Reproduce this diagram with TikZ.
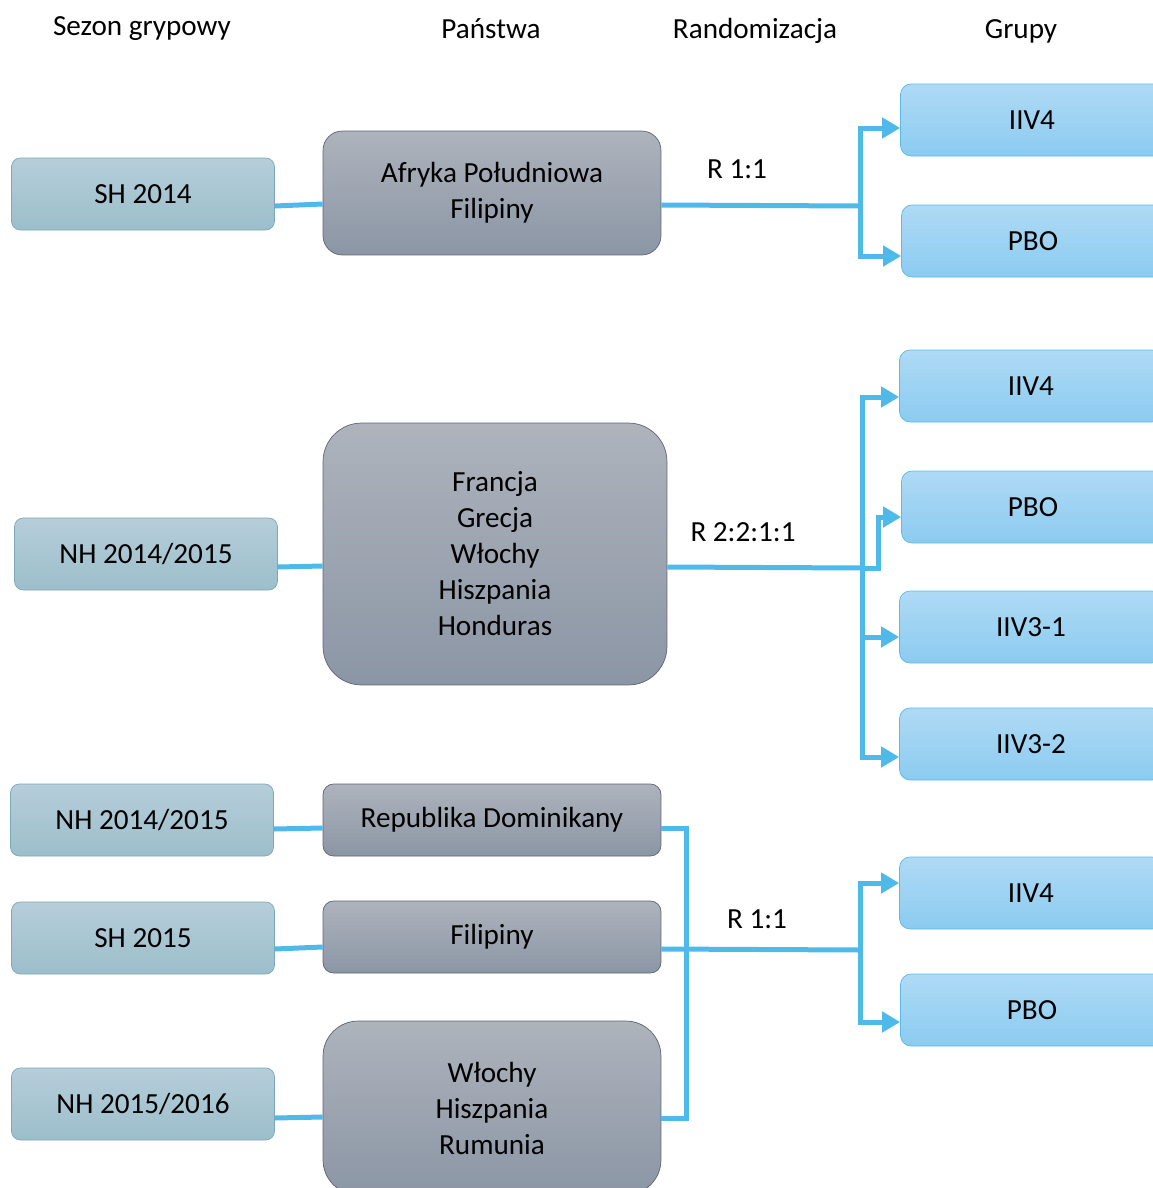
\documentclass[tikz,border=0pt]{standalone}
\usepackage{fontspec}
\setmainfont{Carlito}
\usepackage{xcolor}
\definecolor{seasontop}{HTML}{B5CED9}
\definecolor{seasonbot}{HTML}{9CBECB}
\definecolor{seasonedge}{HTML}{7BA7BA}
\definecolor{countrytop}{HTML}{AEB3BC}
\definecolor{countrybot}{HTML}{8B96A5}
\definecolor{countryedge}{HTML}{5D6574}
\definecolor{grouptop}{HTML}{AFDAF5}
\definecolor{groupbot}{HTML}{8BCBF0}
\definecolor{groupedge}{HTML}{5ABAE9}
\definecolor{linkblue}{HTML}{4FB9E9}
\usepackage{tikz}
\usetikzlibrary{arrows.meta,positioning}
\newcommand{\flufont}{\fontsize{16.6}{20.5}\selectfont}
\tikzset{
    flu_head/.style={font=\flufont, text=black, inner sep=0pt},
    flu_season/.style={draw=seasonedge, top color=seasontop, bottom color=seasonbot, text=black, font=\flufont, rounded corners=5pt, align=center, minimum width=5.26cm, minimum height=1.44cm},
    flu_country/.style={draw=countryedge, top color=countrytop, bottom color=countrybot, text=black, font=\flufont, rounded corners=6pt, align=center, minimum width=6.76cm, minimum height=1.44cm},
    flu_group/.style={draw=groupedge, top color=grouptop, bottom color=groupbot, text=black, font=\flufont, rounded corners=6pt, align=center, minimum width=5.26cm, minimum height=1.44cm},
    flu_link/.style={draw=linkblue, line width=0.1cm},
    flu_arrow/.style={flu_link, -{Triangle[length=0.36cm, width=0.4cm]}}
}

\begin{document}
\begin{tikzpicture}[x=0.02cm, y=-0.02cm]
\useasboundingbox (0,0) rectangle (1153,1188);
\clip (0,0) rectangle (1153,1188);

% column heads
\node[flu_head] (h_season) at (142,29) {Sezon grypowy};
\node[flu_head] (h_country) at (491,29) {Państwa};
\node[flu_head] (h_random) at (755,31) {Randomizacja};
\node[flu_head] (h_group) at (1021,31) {Grupy};

% seasons
\node[flu_season] (s1) at (143,194) {SH 2014};
\node[flu_season] (s2) at (146,554) {NH 2014/2015};
\node[flu_season] (s3) at (142,820) {NH 2014/2015};
\node[flu_season] (s4) at (143,938) {SH 2015};
\node[flu_season] (s5) at (143,1104) {NH 2015/2016};

% countries
\node[flu_country, minimum height=2.48cm, rounded corners=11pt] (c1) at (492,193) {Afryka Południowa\\Filipiny};
\node[flu_country, minimum width=6.88cm, minimum height=5.24cm, rounded corners=22pt] (c2) at (495,554) {Francja\\Grecja\\Włochy\\Hiszpania\\Honduras};
\node[flu_country] (c3) at (492,820) {Republika Dominikany};
\node[flu_country] (c4) at (492,937) {Filipiny};
\node[flu_country, minimum height=3.48cm, rounded corners=20pt] (c5) at (492,1108) {Włochy\\Hiszpania\\Rumunia};

% groups
\node[flu_group] (g1) at (1032,120) {IIV4};
\node[flu_group] (g2) at (1033,241) {PBO};
\node[flu_group] (g3) at (1031,386) {IIV4};
\node[flu_group] (g4) at (1033,507) {PBO};
\node[flu_group] (g5) at (1031,627) {IIV3-1};
\node[flu_group] (g6) at (1031,744) {IIV3-2};
\node[flu_group] (g7) at (1031,893) {IIV4};
\node[flu_group] (g8) at (1032,1010) {PBO};

% randomisation labels
\node[flu_head] (r1) at (737,169) {R 1:1};
\node[flu_head] (r2) at (743,532) {R 2:2:1:1};
\node[flu_head] (r3) at (757,919) {R 1:1};

% season -> country
\draw[flu_link] ([yshift=-0.24cm]s1.east) -- ([yshift=-0.22cm]c1.west);
\draw[flu_link] ([yshift=-0.26cm]s2.east) -- ([yshift=-0.24cm]c2.west);
\draw[flu_link] ([yshift=-0.18cm]s3.east) -- ([yshift=-0.16cm]c3.west);
\draw[flu_link] ([yshift=-0.22cm]s4.east) -- ([yshift=-0.2cm]c4.west);
\draw[flu_link] ([yshift=-0.28cm]s5.east) -- ([yshift=-0.18cm]c5.west);

% first block
\coordinate (j1) at (860,206);
\draw[flu_link] ([yshift=-0.24cm]c1.east) -- (j1);
\draw[flu_arrow] (j1) |- ([yshift=-0.16cm]g1.west);
\draw[flu_arrow] (j1) |- ([yshift=-0.3cm]g2.west);

% second block
\coordinate (j2) at (862,568);
\coordinate (j2b) at (878,568);
\draw[flu_link] ([yshift=-0.26cm]c2.east) -- (j2);
\draw[flu_arrow] (j2) |- ([yshift=-0.22cm]g3.west);
\draw[flu_arrow] (j2) -- (j2b) |- ([yshift=-0.2cm]g4.west);
\draw[flu_arrow] (j2) |- ([yshift=-0.2cm]g5.west);
\draw[flu_arrow] (j2) |- ([yshift=-0.26cm]g6.west);

% third block
\coordinate (m3) at (686,949);
\coordinate (j3) at (860,950);
\draw[flu_link] ([yshift=-0.16cm]c3.east) -| (m3) |- ([yshift=-0.2cm]c5.east);
\draw[flu_link] ([yshift=-0.24cm]c4.east) -- (j3);
\draw[flu_arrow] (j3) |- ([yshift=0.2cm]g7.west);
\draw[flu_arrow] (j3) |- ([yshift=-0.24cm]g8.west);
\end{tikzpicture}
\end{document}
